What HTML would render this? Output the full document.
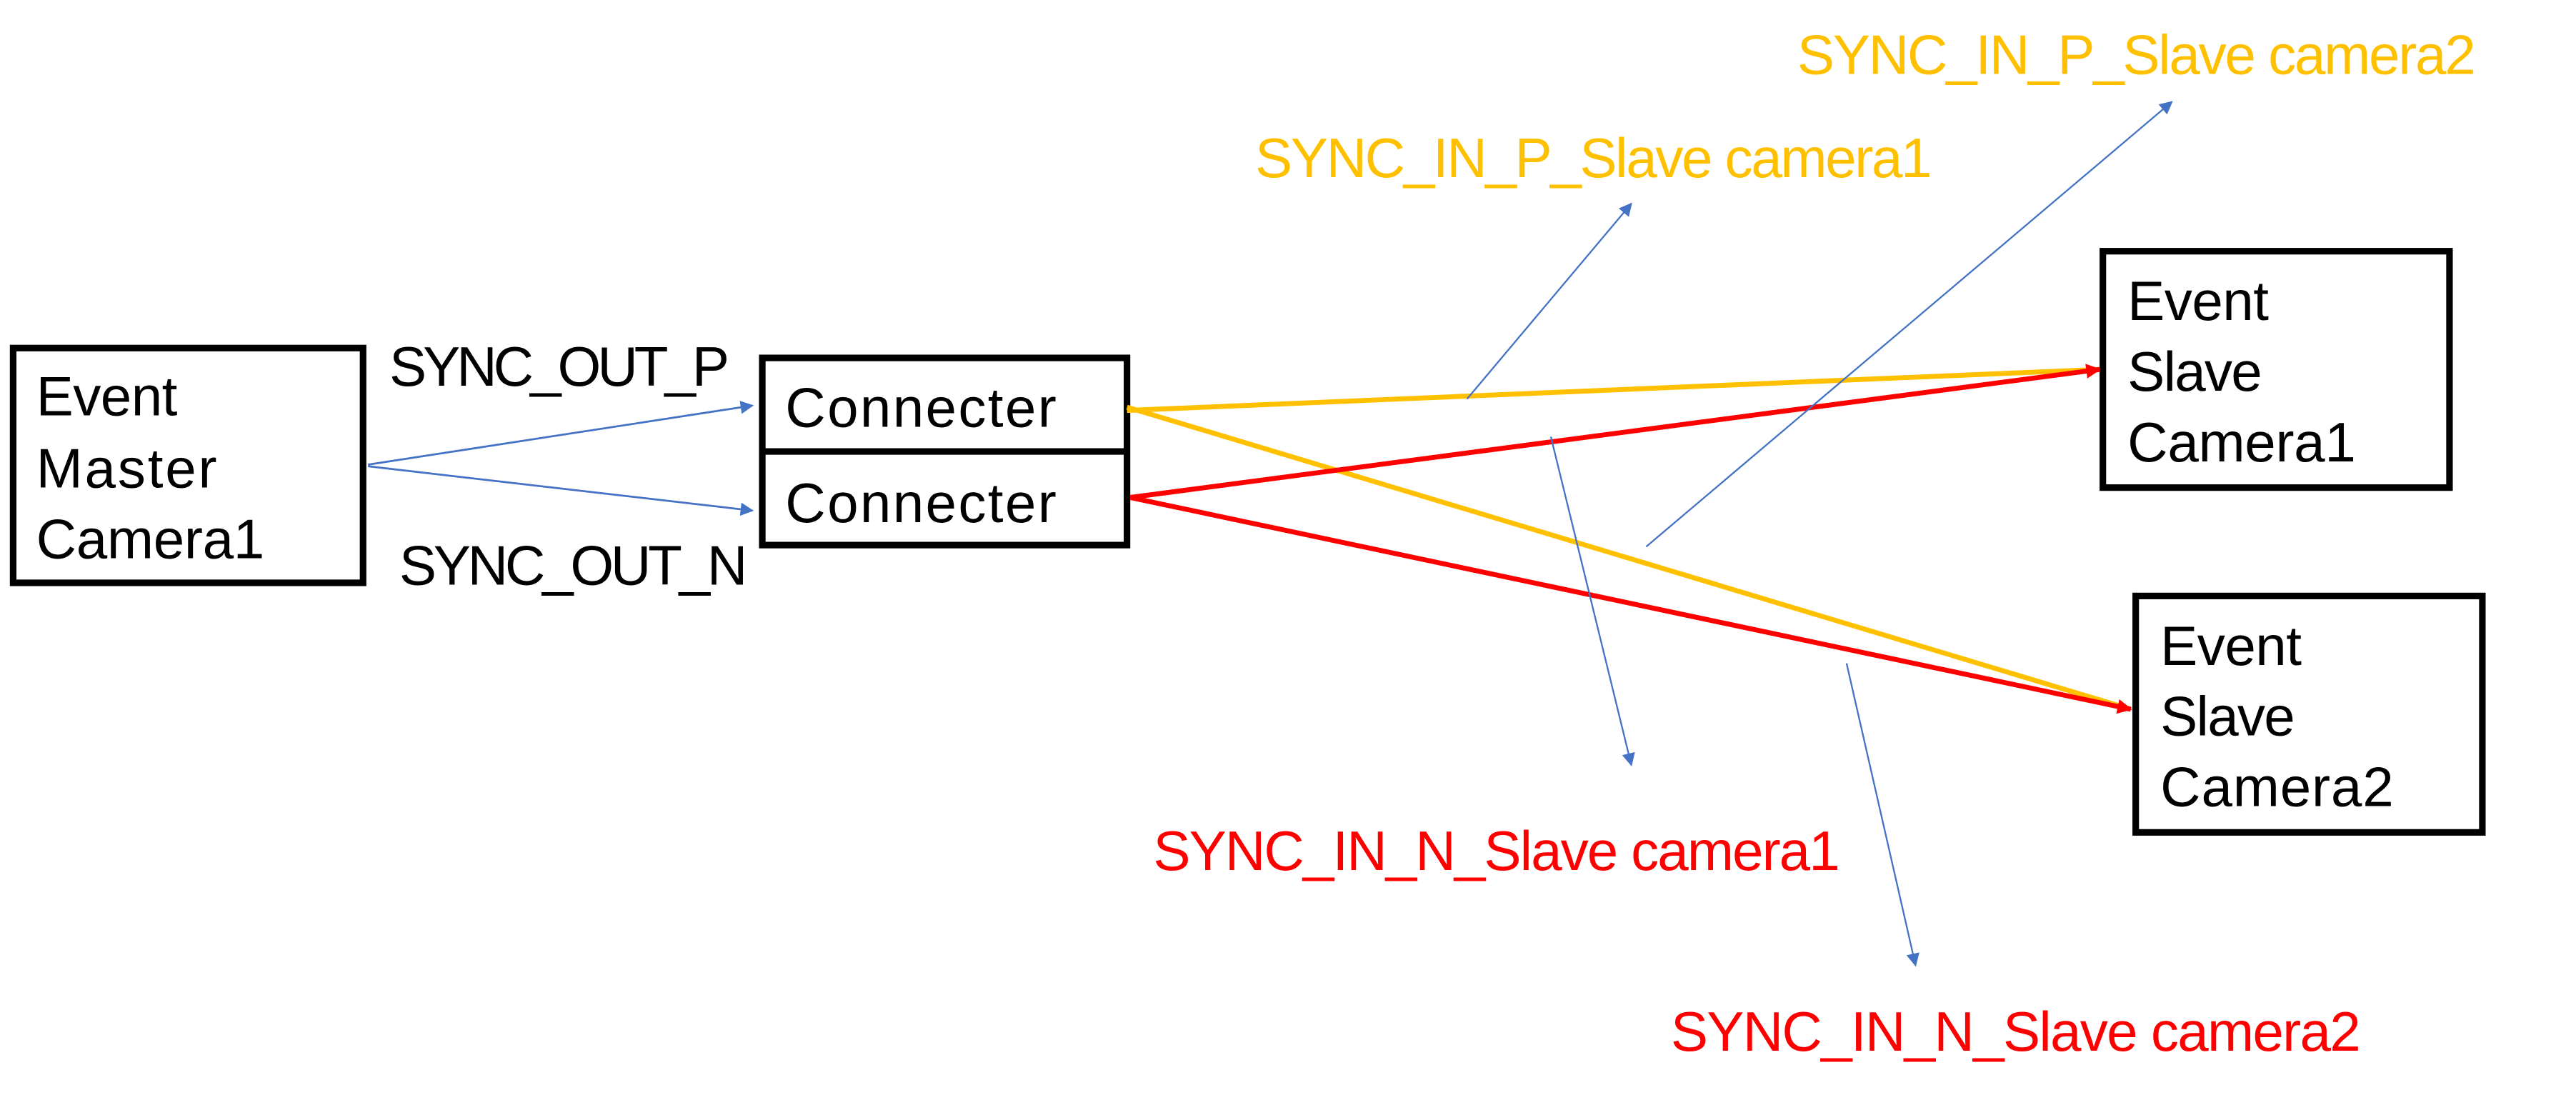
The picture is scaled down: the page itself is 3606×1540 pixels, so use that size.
<!DOCTYPE html>
<html><head><meta charset="utf-8"><style>
html,body{margin:0;padding:0;background:#fff;}
svg{display:block;}
text{font-family:"Liberation Sans",sans-serif;font-size:34px;}
</style></head><body>
<svg width="3606" height="1540" viewBox="0 0 1568 670" preserveAspectRatio="none" xmlns="http://www.w3.org/2000/svg">
<defs>
<marker id="ab" viewBox="0 0 10 10" refX="9" refY="5" markerWidth="10" markerHeight="8" markerUnits="userSpaceOnUse" orient="auto"><path d="M0,0 L10,5 L0,10 z" fill="#4472C4"/></marker>
<marker id="ar" viewBox="0 0 10 10" refX="9" refY="5" markerWidth="11" markerHeight="9" markerUnits="userSpaceOnUse" orient="auto"><path d="M0,0 L10,5 L0,10 z" fill="#FF0000"/></marker>
</defs>
<rect x="8" y="212" width="213" height="143" fill="none" stroke="#000" stroke-width="4"/>
<rect x="464" y="218" width="222" height="114" fill="none" stroke="#000" stroke-width="4"/>
<line x1="464" y1="275" x2="686" y2="275" stroke="#000" stroke-width="4"/>
<rect x="1280" y="153" width="211" height="144" fill="none" stroke="#000" stroke-width="4"/>
<rect x="1300" y="363" width="211" height="144" fill="none" stroke="#000" stroke-width="4"/>
<text x="22" y="253" textLength="86">Event</text><text x="22" y="297" textLength="110">Master</text><text x="22" y="340" textLength="139">Camera1</text>
<text x="478" y="260" textLength="165">Connecter</text><text x="478" y="318" textLength="165">Connecter</text>
<text x="1295" y="195" textLength="86">Event</text><text x="1295" y="238" textLength="82">Slave</text><text x="1295" y="281" textLength="139">Camera1</text>
<text x="1315" y="405" textLength="86">Event</text><text x="1315" y="448" textLength="82">Slave</text><text x="1315" y="491" textLength="142">Camera2</text>
<text x="237" y="235" textLength="207">SYNC_OUT_P</text>
<text x="243" y="356" textLength="212">SYNC_OUT_N</text>
<line x1="224" y1="283" x2="458" y2="247" stroke="#4472C4" stroke-width="1.2" marker-end="url(#ab)"/>
<line x1="224" y1="284" x2="458" y2="311" stroke="#4472C4" stroke-width="1.2" marker-end="url(#ab)"/>
<line x1="686" y1="250" x2="1278" y2="225" stroke="#FFC000" stroke-width="3"/>
<line x1="686" y1="248" x2="1297" y2="432" stroke="#FFC000" stroke-width="3"/>
<line x1="688" y1="303" x2="1278" y2="225" stroke="#FF0000" stroke-width="3" marker-end="url(#ar)"/>
<line x1="688" y1="303" x2="1297" y2="432" stroke="#FF0000" stroke-width="3" marker-end="url(#ar)"/>
<line x1="893" y1="243" x2="993" y2="124" stroke="#4472C4" stroke-width="1" marker-end="url(#ab)"/>
<line x1="1002" y1="333" x2="1322" y2="62" stroke="#4472C4" stroke-width="1" marker-end="url(#ab)"/>
<line x1="944" y1="266" x2="993" y2="466" stroke="#4472C4" stroke-width="1" marker-end="url(#ab)"/>
<line x1="1124" y1="404" x2="1166" y2="588" stroke="#4472C4" stroke-width="1" marker-end="url(#ab)"/>
<text x="1094" y="45" fill="#FFC000" textLength="413">SYNC_IN_P_Slave camera2</text>
<text x="764" y="108" fill="#FFC000" textLength="412">SYNC_IN_P_Slave camera1</text>
<text x="702" y="530" fill="#FF0000" textLength="418">SYNC_IN_N_Slave camera1</text>
<text x="1017" y="640" fill="#FF0000" textLength="420">SYNC_IN_N_Slave camera2</text>
</svg>
</body></html>
